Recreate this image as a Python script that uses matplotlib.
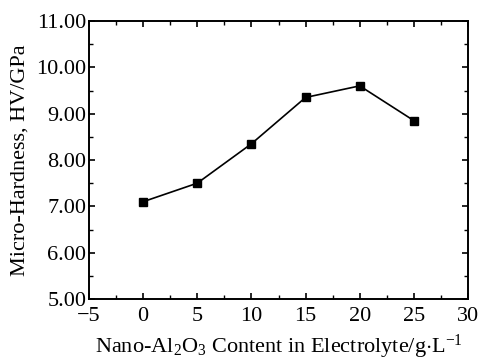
import matplotlib
matplotlib.use('Agg')
import matplotlib.pyplot as plt
from matplotlib.ticker import MultipleLocator

plt.rcParams['font.family'] = ['Liberation Serif', 'DejaVu Serif']
plt.rcParams['mathtext.fontset'] = 'custom'
plt.rcParams['mathtext.rm'] = 'Liberation Serif'
plt.rcParams['mathtext.it'] = 'Liberation Serif'

# data
content = [0, 5, 10, 15, 20, 25]
hardness = [7.10, 7.50, 8.35, 9.35, 9.60, 8.85]
xtick_vals = [-5, 0, 5, 10, 15, 20, 25, 30]
xtick_labels = ['\u22125', '0', '5', '10', '15', '20', '25', '30']
ytick_vals = [5, 6, 7, 8, 9, 10, 11]
ytick_labels = ['5.00', '6.00', '7.00', '8.00', '9.00', '10.00', '11.00']

fig = plt.figure(figsize=(4.81, 3.61), dpi=100)
ax = fig.add_axes([89/481, 1-299/361, (468-89)/481, (299-21)/361])

ax.plot(content, hardness, color='black', lw=1.2, marker='s', ms=6,
        markerfacecolor='black', markeredgecolor='black')

ax.set_xlim(-5, 30)
ax.set_ylim(5, 11)
ax.set_xticks(xtick_vals)
ax.set_xticklabels(xtick_labels)
ax.set_yticks(ytick_vals)
ax.set_yticklabels(ytick_labels)
ax.xaxis.set_minor_locator(MultipleLocator(2.5))
ax.yaxis.set_minor_locator(MultipleLocator(0.5))

ax.tick_params(which='both', direction='in', labelsize=16, colors='black')
ax.tick_params(axis='x', pad=6)
ax.tick_params(axis='y', pad=2)
ax.tick_params(which='major', length=4, width=1.2)
ax.tick_params(which='minor', length=3, width=1.0)
ax.tick_params(which='both', top=True, right=True)
for s in ax.spines.values():
    s.set_linewidth(1.4)

ax.set_xlabel(r'Nano-Al$_{2}$O$_{3}$ Content in Electrolyte/g$\cdot$L$^{-1}$', fontsize=16, labelpad=5)
ax.set_ylabel('Micro-Hardness, HV/GPa', fontsize=16, labelpad=5)

fig.savefig('out.png', dpi=100)
